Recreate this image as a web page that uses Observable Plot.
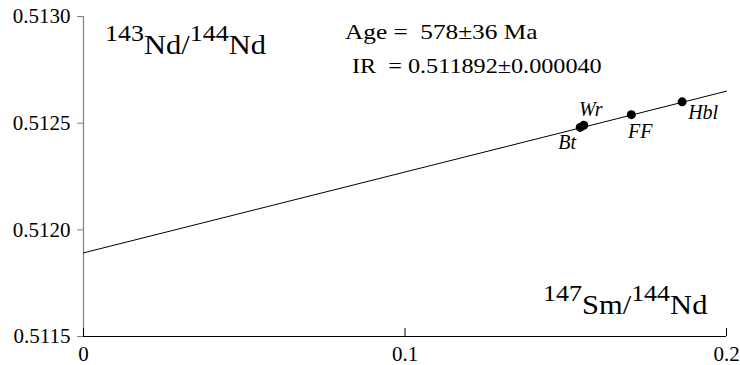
<!DOCTYPE html>
<html>
<head>
<meta charset="utf-8">
<script src="https://cdn.jsdelivr.net/npm/d3@7"></script>
<script src="https://cdn.jsdelivr.net/npm/@observablehq/plot@0.6"></script>
<style>
  html, body { margin: 0; padding: 0; background: #fff; }
  svg text, svg tspan { white-space: pre; font-family: "Liberation Serif", "Times New Roman", serif !important; }
</style>
</head>
<body>
<div id="chart"></div>
<script>
// ---- data ----
const samples = ["Bt", "Wr", "FF", "Hbl"];
const smNd = [0.1545, 0.1556, 0.1704, 0.1862];      // 147Sm/144Nd
const ndNd = [0.51248, 0.51249, 0.51254, 0.51260];  // 143Nd/144Nd
const isochronX = [0, 0.2];
const isochronY = [0.511892, 0.512650];
const xTicks = [0, 0.1, 0.2];
const xTickLabels = ["0", "0.1", "0.2"];
const yTicks = [0.5115, 0.5120, 0.5125, 0.5130];
const yTickLabels = ["0.5115", "0.5120", "0.5125", "0.5130"];
const ageText = "Age =  578\u00B136 Ma";
const irText = "IR  = 0.511892\u00B10.000040";

// ---- layout (not data) ----
const labelOffsets = { Bt: [-13, 15], Wr: [7, -16], FF: [9, 17], Hbl: [21, 11] };
const serif = "'Liberation Serif', 'Times New Roman', serif";

const points = samples.map((s, i) => ({ s, x: smNd[i], y: ndNd[i] }));
const iso = isochronX.map((x, i) => ({ x, y: isochronY[i] }));

const chart = Plot.plot({
  width: 740,
  height: 365,
  marginLeft: 83,
  marginRight: 14,
  marginTop: 16,
  marginBottom: 29,
  style: { background: "#fff", color: "#000", fontFamily: serif },
  x: { domain: [0, 0.2] },
  y: { domain: [0.5115, 0.5130] },
  marks: [
    Plot.ruleX([0], { stroke: "#808080", strokeWidth: 1.2 }),
    Plot.ruleY([0.5115], { stroke: "#000", strokeWidth: 1.2 }),
    Plot.axisY({
      ticks: yTicks,
      tickFormat: d => yTickLabels[yTicks.indexOf(d)],
      tickSize: 6, tickPadding: 7, fontSize: 21,
      stroke: "#808080", fill: "#000", label: null
    }),
    Plot.axisX({
      ticks: xTicks,
      tickFormat: d => xTickLabels[xTicks.indexOf(d)],
      tickSize: 0, tickPadding: 10, fontSize: 21,
      fill: "#000", label: null
    }),
    Plot.tickX(xTicks, { x: d => d, insetTop: 312, stroke: "#000" }),
    Plot.line(iso, { x: "x", y: "y", stroke: "#000", strokeWidth: 1 }),
    Plot.dot(points, { x: "x", y: "y", r: 4.5, fill: "#000", stroke: "none" }),
    ...points.map(p => Plot.text([p], {
      x: "x", y: "y", text: "s",
      dx: labelOffsets[p.s][0], dy: labelOffsets[p.s][1],
      fontSize: 20, fontStyle: "italic", fill: "#000"
    }))
  ]
});

document.getElementById("chart").appendChild(chart);

const svg = d3.select(chart);
svg.attr("font-family", serif);

// ---- annotations with superscripts ----
function supLabel(x, y, parts, stretch) {
  const g = svg.append("g").attr("transform", `translate(${x},${y}) scale(${stretch},1)`);
  const t = g.append("text").attr("x", 0).attr("y", 0).attr("fill", "#000")
    .attr("text-anchor", "start").attr("font-family", serif);
  let up = false;
  parts.forEach(([txt, sup]) => {
    const ts = t.append("tspan").text(txt);
    if (sup && !up) { ts.attr("dy", -13).attr("font-size", 23); up = true; }
    else if (!sup && up) { ts.attr("dy", 13).attr("font-size", 27); up = false; }
    else ts.attr("font-size", sup ? 23 : 27);
  });
}
supLabel(105, 54, [["143", true], ["Nd/", false], ["144", true], ["Nd", false]], 1.13);
supLabel(543, 314, [["147", true], ["Sm/", false], ["144", true], ["Nd", false]], 1.13);

function plainLabel(x, y, txt, stretch) {
  svg.append("g").attr("transform", `translate(${x},${y}) scale(${stretch},1)`)
    .append("text").attr("x", 0).attr("y", 0).attr("fill", "#000")
    .attr("text-anchor", "start").attr("font-size", 22).attr("font-family", serif)
    .text(txt);
}
plainLabel(345, 39, ageText, 1.15);
plainLabel(352, 73, irText, 1.1);
</script>
</body>
</html>
